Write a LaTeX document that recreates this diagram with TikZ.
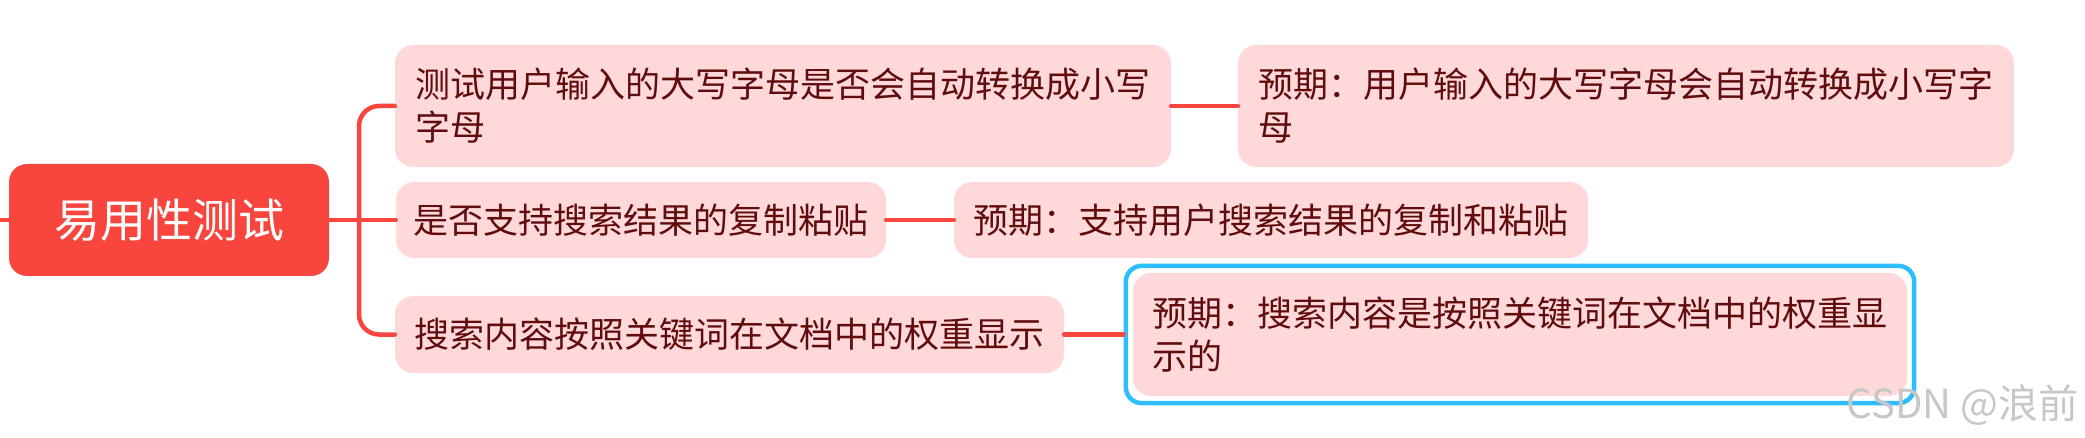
\documentclass[tikz,border=0pt]{standalone}
\usepackage{fontspec}
\setmainfont{Noto Sans CJK SC}
\usepackage{xcolor}
\usepackage{tikz}
\usetikzlibrary{fit}
\definecolor{rootred}{RGB}{248,69,62}
\definecolor{leafpink}{RGB}{255,217,217}
\definecolor{leaftext}{RGB}{96,12,12}
\definecolor{selblue}{RGB}{46,190,255}
\tikzset{
  rootv/.style={rectangle, rounded corners=18pt, fill=rootred, text=white,
    minimum width=320pt, minimum height=112pt, inner sep=0pt,
    font=\fontsize{46}{46}\selectfont},
  leafv/.style={rectangle, rounded corners=18pt, fill=leafpink, text=leaftext,
    align=left, inner sep=0pt, font=\fontsize{35}{43}\selectfont},
  conn/.style={draw=rootred, line width=4.5pt},
  selv/.style={rectangle, draw=selblue, line width=4.5pt, rounded corners=16pt, inner sep=7pt},
  every picture/.style={line cap=round, line join=round}
}

\begin{document}
\begin{tikzpicture}[x=1pt, y=-1pt]
    \useasboundingbox (0,0) rectangle (2085,438);

    \coordinate (stub) at (0,220);
    \coordinate (fork) at (359,220);
    \node[rootv] (root) at (169,220) {易用性测试};

    \node[leafv, minimum width=776pt, minimum height=122pt] (t1) at (783,106)
      {测试用户输入的大写字母是否会自动转换成小写\\字母};
    \node[leafv, minimum width=776pt, minimum height=122pt] (r1) at (1626,106)
      {预期：用户输入的大写字母会自动转换成小写字\\母};
    \node[leafv, minimum width=490pt, minimum height=76pt] (t2) at (641,220)
      {是否支持搜索结果的复制粘贴};
    \node[leafv, minimum width=634pt, minimum height=76pt] (r2) at (1271,220)
      {预期：支持用户搜索结果的复制和粘贴};
    \node[leafv, minimum width=669pt, minimum height=77pt] (t3) at (729.5,334.5)
      {搜索内容按照关键词在文档中的权重显示};
    \node[leafv, minimum width=774pt, minimum height=123pt] (r3) at (1520,334.5)
      {预期：搜索内容是按照关键词在文档中的权重显\\示的};

    \draw[conn] (stub) -- (root.west);
    \draw[conn] (root.east) -- (t2.west);
    \draw[conn, rounded corners=20pt] (t1.west) -| (fork) |- (t3.west);
    \draw[conn] (t1.east) -- (r1.west);
    \draw[conn] (t2.east) -- (r2.west);

    \node[selv, fit=(r3)] (sel) {};
    \draw[conn] (t3.east) -- (sel.west);

    \node[anchor=east, text=black!22, font=\fontsize{40}{40}\selectfont] (wm) at (2082,405) {CSDN @浪前};
  \end{tikzpicture}
\end{document}
